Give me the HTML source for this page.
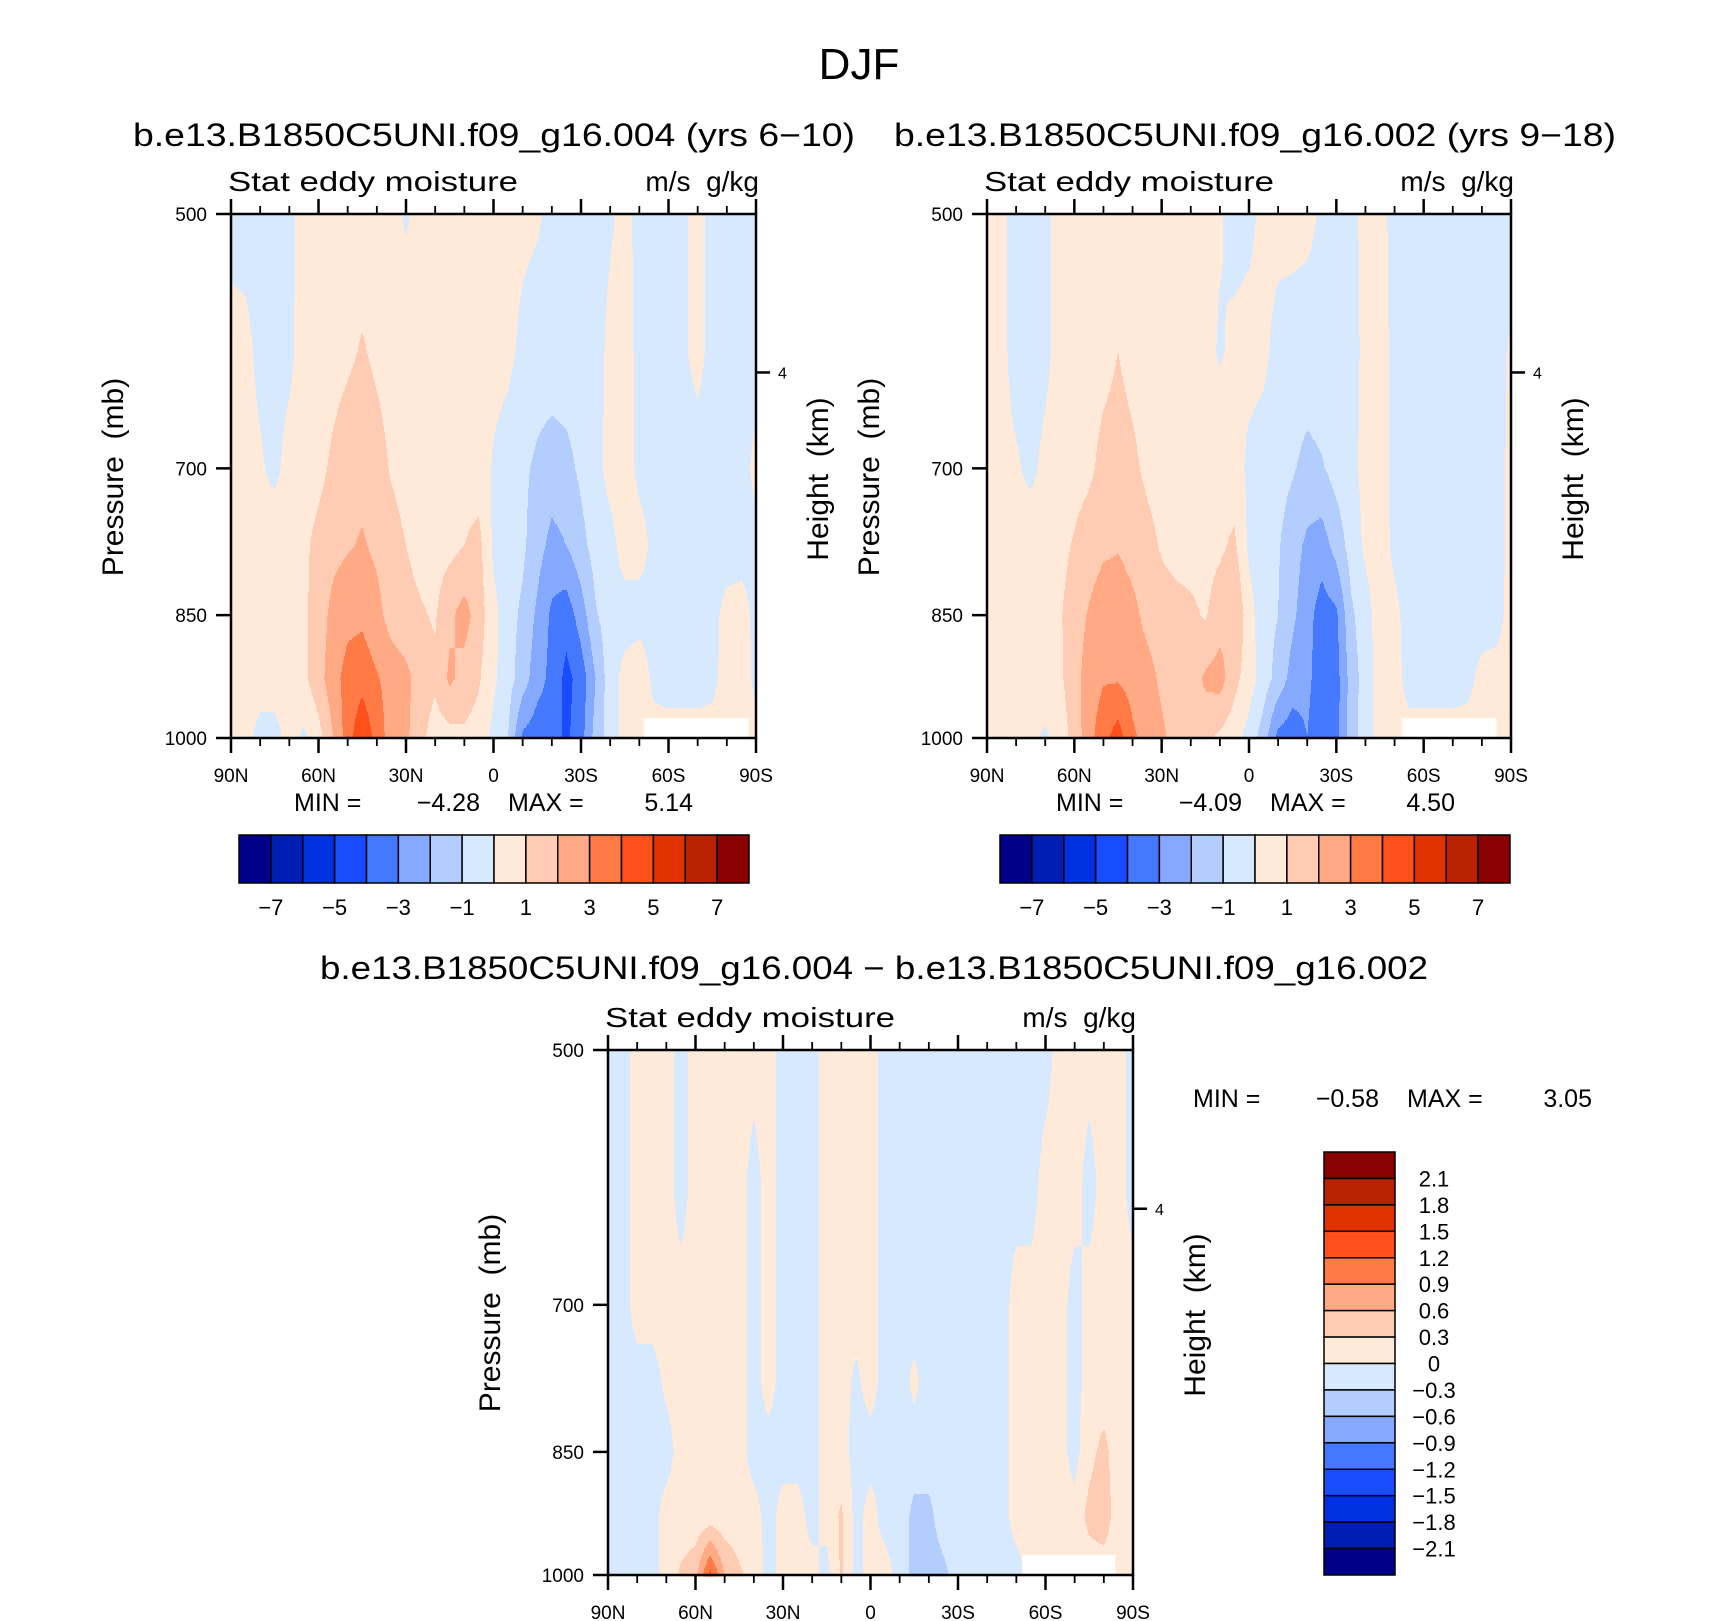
<!DOCTYPE html>
<html><head><meta charset="utf-8"><style>
html,body{margin:0;padding:0;background:#fff}
svg{display:block}
text{font-family:"Liberation Sans",sans-serif;fill:#000;white-space:pre}
</style></head><body>
<svg id="fig" width="1710" height="1621" viewBox="0 0 1710 1621" xmlns="http://www.w3.org/2000/svg" xml:space="preserve">
<rect width="1710" height="1621" fill="#fff"/>
<text x="859" y="79" font-size="44" text-anchor="middle">DJF</text>
<text x="133" y="146" font-size="32" textLength="722" lengthAdjust="spacingAndGlyphs">b.e13.B1850C5UNI.f09_g16.004 (yrs 6−10)</text>
<text x="894" y="146" font-size="32" textLength="722" lengthAdjust="spacingAndGlyphs">b.e13.B1850C5UNI.f09_g16.002 (yrs 9−18)</text>
<text x="320" y="979" font-size="32" textLength="1108" lengthAdjust="spacingAndGlyphs">b.e13.B1850C5UNI.f09_g16.004 − b.e13.B1850C5UNI.f09_g16.002</text>
<g id="panels"></g>
</svg>
<script>
const pLevels = [500,600,700,775,850,925,1000];
const latGridStep = 5;
const xTickLats = [90,60,30,0,-30,-60,-90];
const xTickLabels = ['90N','60N','30N','0','30S','60S','90S'];
const yTickValues = [500,700,850,1000];
const heightTickKm = [4];
const heightTickP = [616.6];
const colors = ['#00008b','#001eb4','#0031e0','#1a4cff','#4479ff','#85a9ff','#b3cdff','#d7e9ff','#ffead9','#ffccb3','#ffaa85','#ff7a45','#ff4f1a','#e03300','#b82200','#8b0000'];
const levelsAB = [-7,-6,-5,-4,-3,-2,-1,0,1,2,3,4,5,6,7];
const levelsC = [-2.1,-1.8,-1.5,-1.2,-0.9,-0.6,-0.3,0,0.3,0.6,0.9,1.2,1.5,1.8,2.1];
const cbLabelsAB = ['−7','−5','−3','−1','1','3','5','7'];
const cbLabelsC = ['2.1','1.8','1.5','1.2','0.9','0.6','0.3','0','−0.3','−0.6','−0.9','−1.2','−1.5','−1.8','−2.1'];
const minMaxA = ['−4.28','5.14'];
const minMaxB = ['−4.09','4.50'];
const minMaxC = ['−0.58','3.05'];

const valuesA = [
[-0.3,-0.3,-0.3,-0.3,-0.2,0.3,0.4,0.4,0.4,0.4,0.3,0.2,-0.1,0.3,0.3,0.4,0.4,0.3,0.3,0.3,0.2,0.1,-0.2,-0.3,-0.3,-0.3,-0.1,0.2,-0.2,-0.3,-0.3,-0.1,0.2,-0.2,-0.3,-0.3,-0.3],
[0.3,0.2,-0.2,-0.3,-0.2,0.4,0.5,0.6,0.8,1.1,0.8,0.6,0.5,0.4,0.4,0.4,0.4,0.4,0.3,0.2,-0.2,-0.4,-0.4,-0.4,-0.4,-0.3,0.2,0.3,-0.2,-0.3,-0.3,-0.1,0.2,-0.2,-0.3,-0.3,-0.3],
[0.3,0.3,0.1,-0.2,0.3,0.5,0.7,1.2,1.6,1.7,1.4,0.9,0.6,0.5,0.5,0.5,0.6,0.5,-0.1,-0.4,-0.8,-1.2,-1.5,-1.3,-0.8,-0.3,0.3,0.4,-0.2,-0.3,-0.3,-0.3,-0.3,-0.3,-0.3,-0.3,0.2],
[0.3,0.3,0.4,0.5,0.6,0.8,1.3,1.7,1.9,2.1,1.8,1.4,1.0,0.7,0.6,0.7,1.0,1.3,-0.2,-0.5,-0.8,-1.6,-2.3,-2.0,-1.3,-0.6,-0.3,0.4,0.3,-0.2,-0.3,-0.3,-0.3,-0.3,-0.3,-0.3,-0.2],
[0.3,0.4,0.4,0.5,0.6,0.8,1.5,2.3,2.7,2.8,2.3,1.6,1.3,1.1,0.9,1.8,2.4,1.5,0.3,-0.6,-1.2,-2.2,-3.2,-3.6,-2.5,-1.1,-0.5,-0.4,-0.3,-0.3,-0.3,-0.3,-0.2,-0.2,0.2,0.3,-0.2],
[0.2,0.3,0.4,0.4,0.5,0.8,1.6,2.6,3.4,3.6,3.1,2.6,2.3,1.5,1.2,2.2,1.6,1.1,0.2,-0.6,-1.5,-2.6,-3.3,-4.3,-3.6,-2.0,-0.4,0.3,0.5,-0.2,-0.3,-0.3,-0.3,-0.2,0.3,0.4,-0.2],
[0.3,0.3,-0.3,-0.3,0.3,-0.2,0.6,2.0,3.5,4.9,3.6,2.5,2.2,1.3,0.5,0.6,0.8,0.6,-0.3,-1.0,-3.2,-3.6,-3.5,-4.2,-3.4,-1.6,-0.5,0.3,0.4,0.3,0.3,0.3,0.3,0.3,0.3,0.3,0.3]
];
const valuesB = [
[0.3,0.2,-0.3,-0.3,-0.2,0.3,0.4,0.4,0.4,0.4,0.3,0.2,0.2,0.3,0.3,0.3,0.1,-0.3,-0.2,0.2,0.3,0.3,0.2,-0.1,-0.3,-0.2,0.2,0.2,-0.2,-0.3,-0.3,-0.3,-0.3,-0.3,-0.3,-0.3,-0.3],
[0.3,0.2,-0.3,-0.3,-0.2,0.3,0.4,0.5,0.7,1.0,0.7,0.5,0.4,0.4,0.4,0.3,-0.1,0.2,0.3,0.2,-0.3,-0.4,-0.4,-0.3,-0.3,-0.3,0.2,0.3,-0.2,-0.3,-0.3,-0.3,-0.3,-0.3,-0.3,-0.3,0.1],
[0.3,0.2,0.1,-0.2,0.2,0.4,0.6,0.8,1.3,1.4,1.2,0.8,0.6,0.5,0.5,0.5,0.7,0.4,-0.2,-0.4,-0.6,-0.9,-1.3,-1.1,-0.6,-0.3,0.3,0.3,-0.2,-0.3,-0.3,-0.3,-0.3,-0.3,-0.3,-0.3,0.2],
[0.3,0.3,0.4,0.5,0.6,0.7,1.1,1.5,1.8,1.9,1.6,1.3,0.9,0.7,0.6,0.6,0.8,1.2,-0.2,-0.5,-0.9,-1.6,-2.2,-2.5,-1.6,-0.6,0.2,0.4,-0.2,-0.3,-0.3,-0.3,-0.3,-0.3,-0.3,-0.3,0.2],
[0.4,0.5,0.6,0.7,0.8,0.9,1.5,2.1,2.6,2.7,2.3,1.7,1.4,1.3,1.2,0.9,1.6,2.0,0.4,-0.6,-1.0,-1.8,-2.6,-3.5,-3.2,-1.2,-0.4,0.5,0.2,-0.3,-0.3,-0.3,-0.3,-0.3,-0.3,-0.3,0.3],
[0.3,0.4,0.5,0.6,0.7,0.8,1.6,2.5,2.9,2.9,2.6,2.4,1.8,1.5,1.4,2.2,2.4,1.3,0.5,-0.5,-1.4,-2.4,-2.7,-3.7,-3.4,-1.6,-0.5,0.4,0.3,-0.3,-0.3,-0.3,-0.3,-0.2,0.2,0.3,0.3],
[0.3,0.3,0.3,0.3,-0.2,0.4,1.4,2.6,3.7,4.5,3.2,2.6,2.2,1.6,1.1,1.2,0.8,0.4,-0.4,-1.5,-3.3,-3.6,-3.0,-4.0,-3.4,-1.5,-0.4,0.4,0.4,0.3,0.3,0.3,0.3,0.3,0.3,0.3,0.4]
];
const valuesC = [
[-0.1,-0.1,0.1,0.1,0.1,-0.1,0.1,0.1,0.1,0.1,0.1,0.1,-0.1,-0.1,-0.1,0.1,0.1,0.1,0.1,-0.1,-0.1,-0.1,-0.1,-0.1,-0.1,-0.1,-0.1,-0.1,-0.1,-0.1,-0.1,0.1,0.1,0.1,0.1,0.1,-0.1],
[-0.1,-0.1,0.1,0.1,0.1,-0.1,0.1,0.1,0.1,0.1,-0.1,0.1,-0.1,-0.1,-0.1,0.1,0.1,0.1,0.1,-0.1,-0.1,-0.1,-0.1,-0.1,-0.1,-0.1,-0.1,-0.1,-0.1,-0.1,0.1,0.1,0.1,-0.1,0.1,0.1,-0.1],
[-0.1,-0.1,0.1,0.1,0.1,0.1,0.1,0.1,0.1,0.1,-0.1,0.1,-0.1,-0.1,-0.1,0.1,0.1,0.1,0.1,-0.1,-0.1,-0.1,-0.1,-0.1,-0.1,-0.1,-0.1,-0.1,0.1,0.1,0.1,0.1,-0.1,0.1,0.1,0.1,0.1],
[-0.1,-0.1,-0.1,-0.1,0.05,0.1,0.1,0.1,0.1,0.1,-0.1,0.1,-0.1,-0.1,-0.1,0.1,0.1,-0.05,0.1,-0.1,-0.1,0.05,-0.1,-0.1,-0.1,-0.1,-0.1,-0.1,0.1,0.1,0.1,0.1,-0.1,0.1,0.1,0.1,0.1],
[-0.1,-0.1,-0.1,-0.1,-0.1,0.1,0.1,0.1,0.1,0.1,-0.1,-0.1,-0.1,-0.1,-0.1,0.1,0.1,-0.1,-0.1,-0.1,-0.1,-0.1,-0.1,-0.1,-0.1,-0.1,-0.1,-0.1,0.1,0.1,0.1,0.1,-0.1,0.2,0.4,0.1,0.1],
[-0.1,-0.1,-0.1,-0.1,0.1,0.1,0.1,0.1,0.1,0.1,0.1,-0.1,0.1,0.1,-0.1,0.1,0.35,-0.1,0.1,-0.1,-0.1,-0.4,-0.4,-0.1,-0.1,-0.1,-0.1,-0.1,0.1,0.1,0.1,0.1,0.1,0.4,0.5,0.1,0.1],
[-0.1,-0.1,-0.1,-0.1,0.1,0.35,0.5,1.3,0.6,0.35,0.2,-0.1,0.1,0.1,0.1,-0.1,0.35,-0.1,0.1,0.1,-0.1,-0.4,-0.5,-0.4,-0.1,-0.1,-0.1,-0.1,-0.1,0.1,0.1,0.1,0.1,0.1,0.1,0.1,0.1]
];
const missingA = [-51.5,-87.5,974];
const missingB = [-52.5,-85,974];
const missingC = [-52,-84,974];

const NS = 'http://www.w3.org/2000/svg';
const root = document.getElementById('panels');
function mk(tag, attrs, parent){
  const e = document.createElementNS(NS, tag);
  for (const k in attrs) e.setAttribute(k, attrs[k]);
  (parent||root).appendChild(e);
  return e;
}
function txt(str, x, y, size, anchor, parent, rot){
  const t = mk('text', {x:x, y:y, 'font-size':size, 'text-anchor':anchor||'start'}, parent);
  if (rot) t.setAttribute('transform', 'rotate(-90 '+x+' '+y+')');
  t.textContent = str;
  return t;
}
function colorIndex(v, levels){
  let k = 0;
  while (k < levels.length && v >= levels[k]) k++;
  return k;
}
function drawPanel(name, L, T, W, H, values, levels, missing){
  const g = mk('g', {});
  
  
  const xS = lat => L + (90 - lat) / 180 * W;
  const yS = p => T + Math.log(p / 500) / Math.log(2) * H;
  const lnP = pLevels.map(p => Math.log(p));
  const nC = values[0].length;
  function valueAt(px, py){
    const lat = 90 - (px - L) / W * 180;
    const fi = (90 - lat) / latGridStep;
    const lp = Math.log(500) + (py - T) / H * Math.log(2);
    let j = 0;
    while (j < lnP.length - 2 && lp > lnP[j+1]) j++;
    let fy = (lp - lnP[j]) / (lnP[j+1] - lnP[j]);
    fy = Math.max(0, Math.min(1, fy));
    let i = Math.floor(fi); if (i > nC - 2) i = nC - 2; if (i < 0) i = 0;
    let fx = Math.max(0, Math.min(1, fi - i));
    const a = values[j][i], b = values[j][i+1], c = values[j+1][i], d = values[j+1][i+1];
    return (a*(1-fx) + b*fx) * (1-fy) + (c*(1-fx) + d*fx) * fy;
  }
  const fill = mk('g', {}, g);
  
  
  const step = 2;
  for (let y = T; y < T + H; y += step){
    let runStart = L, runCol = -1;
    for (let x = L; x <= L + W; x += 1){
      const ci = x < L + W ? colorIndex(valueAt(x + 0.5, y + step/2), levels) : -2;
      if (ci !== runCol){
        if (runCol >= 0){
          const r = mk('rect', {x:runStart, y:y, width:x - runStart + 0.6, height:step + 0.6, fill:colors[runCol]}, fill);
          
          
        }
        runStart = x; runCol = ci;
      }
    }
  }
  const mx0 = xS(missing[0]), mx1 = xS(missing[1]), my = yS(missing[2]);
  const m = mk('rect', {x:mx0, y:my, width:mx1 - mx0, height:T + H - my, fill:'#fff'}, g);
  
  
  const f = mk('rect', {x:L, y:T, width:W, height:H, fill:'none', stroke:'#000', 'stroke-width':2.5}, g);
  
  
  for (let lat = 90; lat >= -90; lat -= 10){
    const x = xS(lat);
    const major = lat % 30 === 0;
    const len = major ? 15 : 8;
    mk('line', {x1:x, y1:T + H, x2:x, y2:T + H + len, stroke:'#000', 'stroke-width':major?2.5:1.8}, g);
    mk('line', {x1:x, y1:T, x2:x, y2:T - len, stroke:'#000', 'stroke-width':major?2.5:1.8}, g);
  }
  xTickLats.forEach((lat, k) => {
    const t = txt(xTickLabels[k], xS(lat), T + H + 44, 19, 'middle', g);
    
    
  });
  yTickValues.forEach(p => {
    const y = yS(p);
    mk('line', {x1:L - 15, y1:y, x2:L, y2:y, stroke:'#000', 'stroke-width':2.5}, g);
    const t = txt(String(p), L - 24, y + 7, 19, 'end', g);
    
    
  });
  heightTickP.forEach((p, k) => {
    const y = yS(p);
    mk('line', {x1:L + W, y1:y, x2:L + W + 14, y2:y, stroke:'#000', 'stroke-width':2.5}, g);
    const t = txt(String(heightTickKm[k]), L + W + 22, y + 6, 16, 'start', g);
    
    
  });
  const s1 = txt('Stat eddy moisture', L - 3, T - 23, 28, 'start', g);
  s1.setAttribute('textLength', '290');
  s1.setAttribute('lengthAdjust', 'spacingAndGlyphs');
  
  
  const s2 = txt('m/s  g/kg', L + W + 3, T - 23, 28, 'end', g);
  
  
  const yl = txt('Pressure  (mb)', L - 108, T + 263, 30, 'middle', g, true);
  
  
  const hl = txt('Height  (km)', L + W + 72, T + 265, 30, 'middle', g, true);
  
  
}
function hColorbar(name, L, T, W, H){
  const g = mk('g', {});
  
  
  const bw = W / colors.length;
  colors.forEach((c, k) => {
    const r = mk('rect', {x:L + k*bw, y:T, width:bw, height:H, fill:c, stroke:'#000', 'stroke-width':1.5}, g);
    
    
  });
  cbLabelsAB.forEach((s, k) => {
    const t = txt(s, L + (2*k + 1) * bw, T + H + 32, 22, 'middle', g);
    
    
  });
}
function vColorbar(name, L, T, W, H){
  const g = mk('g', {});
  
  
  const bh = H / colors.length;
  colors.slice().reverse().forEach((c, k) => {
    const r = mk('rect', {x:L, y:T + k*bh, width:W, height:bh, fill:c, stroke:'#000', 'stroke-width':1.5}, g);
    
    
  });
  cbLabelsC.forEach((s, k) => {
    const t = txt(s, L + W + 39, T + (k + 1) * bh + 8, 22, 'middle', g);
    
    
  });
}
function minMax(name, x, y, vals){
  const g = mk('g', {});
  
  
  const a = txt('MIN =', x, y, 25, 'start', g);
  
  
  const b = txt(vals[0], x + 186, y, 25, 'end', g);
  
  
  const c = txt('MAX =', x + 214, y, 25, 'start', g);
  
  
  const d = txt(vals[1], x + 399, y, 25, 'end', g);
  
  
}
drawPanel('panel-a', 231, 214, 525, 524, valuesA, levelsAB, missingA);
drawPanel('panel-b', 987, 214, 524, 524, valuesB, levelsAB, missingB);
drawPanel('panel-c', 608, 1050, 525, 525, valuesC, levelsC, missingC);
hColorbar('colorbar-a', 239, 835, 510, 48);
hColorbar('colorbar-b', 1000, 835, 510, 48);
vColorbar('colorbar-c', 1324, 1152, 71, 423);
minMax('panel-a-minmax', 294, 811, minMaxA);
minMax('panel-b-minmax', 1056, 811, minMaxB);
minMax('panel-c-minmax', 1193, 1107, minMaxC);
</script>
</body></html>
